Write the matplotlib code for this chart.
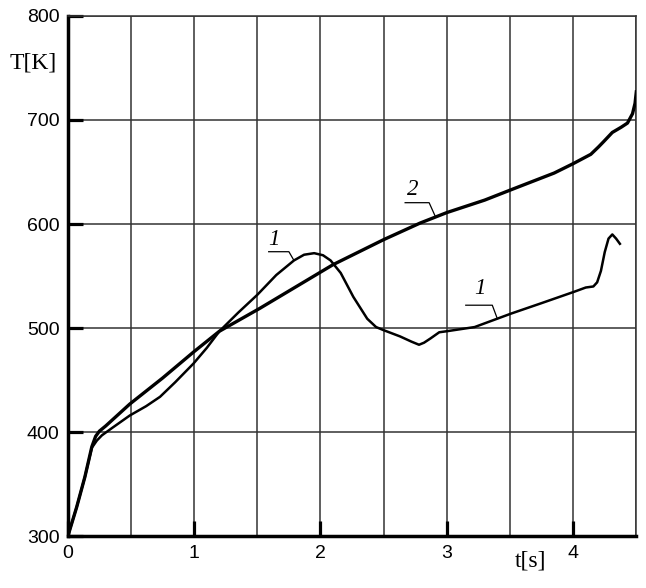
import matplotlib
matplotlib.use('Agg')
import matplotlib.pyplot as plt

# curve 1
t1 = [0, 0.07, 0.135, 0.19, 0.23, 0.27, 0.35, 0.49, 0.62, 0.73, 0.85, 0.995, 1.1, 1.2, 1.35,
      1.5, 1.65, 1.79, 1.87, 1.95, 2.02, 2.08, 2.16, 2.26, 2.37, 2.44, 2.5, 2.63, 2.72,
      2.78, 2.82, 2.87, 2.94, 3.0, 3.22, 3.51, 3.75, 4.01, 4.10, 4.16, 4.19, 4.22, 4.25,
      4.28, 4.31, 4.34, 4.37]
T1 = [300, 328, 357, 385, 392, 397, 404, 416, 425, 434, 448, 466, 481, 497, 515,
      532, 551, 565, 570.5, 572, 570, 565, 553, 530, 509, 501, 498, 492, 487,
      484, 486, 490, 496, 497, 501, 514, 524, 535, 539, 540, 544, 555, 573,
      586, 590, 586, 581]

# curve 2
t2 = [0, 0.07, 0.135, 0.19, 0.22, 0.25, 0.3, 0.49, 0.75, 0.995, 1.2, 1.52, 2.1, 2.5, 2.79,
      3.0, 3.3, 3.51, 3.85, 4.0, 4.14, 4.2, 4.24, 4.31, 4.38, 4.43, 4.47, 4.49, 4.5]
T2 = [300, 328, 357, 386, 396, 401, 406, 427, 452, 477, 497, 519, 561, 585, 601,
      611, 623, 633, 649, 658, 667, 674, 679, 688, 693, 697, 706, 716, 727]

xticks = [0, 1, 2, 3, 4]
yticks = [300, 400, 500, 600, 700, 800]

# curve labels: text position, leader line points
labels = [
    ('1', (1.63, 585), [(1.59, 1.75, 1.79), (573.4, 573.4, 565)]),
    ('2', (2.73, 633), [(2.67, 2.86, 2.91), (620.5, 620.5, 607)]),
    ('1', (3.26, 538), [(3.15, 3.36, 3.40), (522, 522, 509)]),
]

fig = plt.figure(figsize=(6.46, 5.88), dpi=100)
ax = fig.add_axes([0.105, 0.088, 0.88, 0.885])

ax.plot(t1, T1, color='black', lw=1.8, zorder=3)
ax.plot(t2, T2, color='black', lw=2.4, zorder=3)

for txt, pos, (lx, ly) in labels:
    ax.plot(lx, ly, color='black', lw=0.9, zorder=3)
    ax.text(pos[0], pos[1], txt, fontsize=16.5, family='Liberation Serif',
            style='italic', ha='center', va='center')

ax.set_xlim(0, 4.5)
ax.set_ylim(300, 800)
ax.set_xticks(xticks)
ax.set_yticks(yticks)
ax.set_xticks([0.5, 1.5, 2.5, 3.5, 4.5], minor=True)
ax.tick_params(which='minor', length=0)
ax.grid(True, which='both', color='#333333', lw=1.1)
ax.tick_params(which='major', direction='in', length=11, width=2.3,
               labelsize=14, pad=6)
for lab in ax.get_xticklabels() + ax.get_yticklabels():
    lab.set_family('Liberation Sans')

for s in ['left', 'bottom']:
    ax.spines[s].set_linewidth(2.5)
for s in ['top', 'right']:
    ax.spines[s].set_linewidth(1.1)
    ax.spines[s].set_color('#333333')

fig.text(0.052, 0.893, 'T[K]', fontsize=17, family='Liberation Serif',
         ha='center', va='center')
fig.text(0.822, 0.046, 't[s]', fontsize=17, family='Liberation Serif',
         ha='center', va='center')

fig.savefig('out.png', dpi=100)
